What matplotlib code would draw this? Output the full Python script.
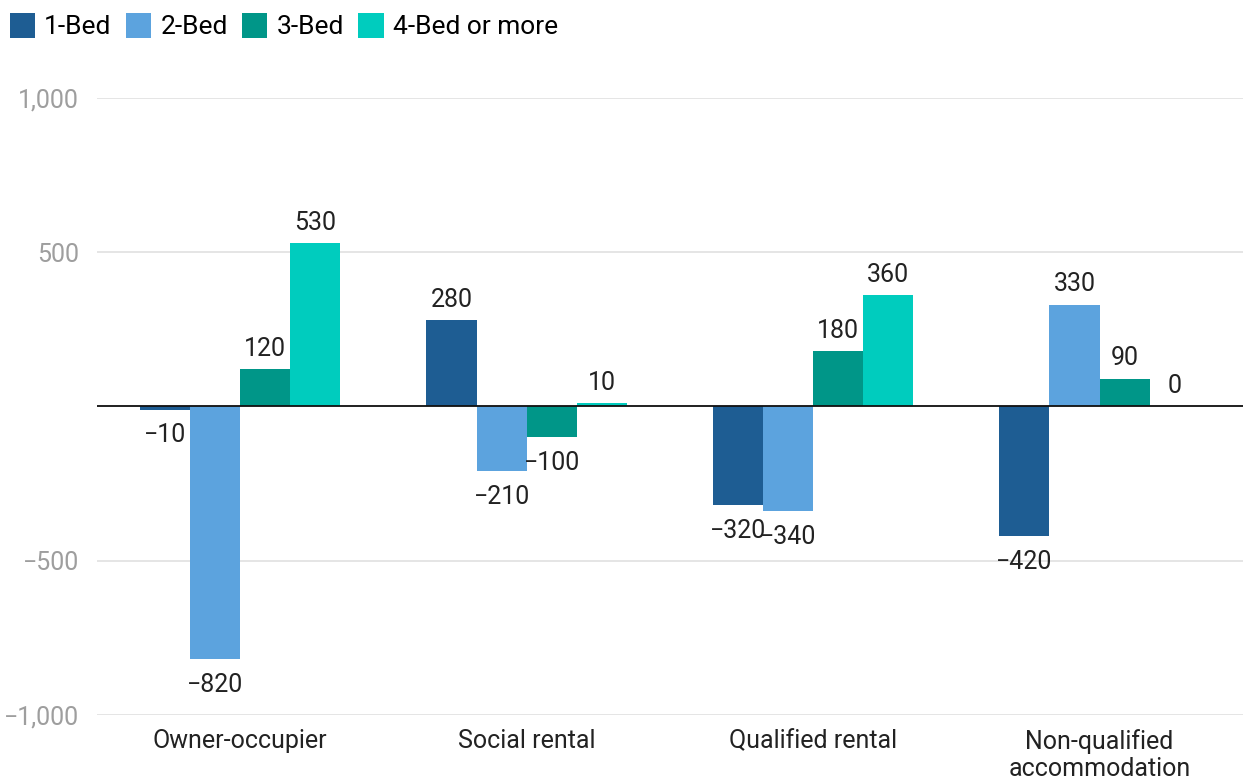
import numpy as np
from matplotlib import pyplot as plt

plt.rcParams['font.family'] = ['Roboto', 'DejaVu Sans']

categories = ['Owner-occupier', 'Social rental', 'Qualified rental', 'Non-qualified\naccommodation']
series_names = ['1-Bed', '2-Bed', '3-Bed', '4-Bed or more']
bed1 = [-10, 280, -320, -420]
bed2 = [-820, -210, -340, 330]
bed3 = [120, -100, 180, 90]
bed4 = [530, 10, 360, 0]
colors = ['#1e5d93', '#5ca3de', '#009688', '#00ccbe']

fig = plt.figure(figsize=(12.44, 7.8), dpi=100)
ax = fig.add_axes([0.078, 0.0833, 0.921, 0.7911])

x = np.arange(len(categories))
width = 0.175
for i, (vals, name, col) in enumerate(zip([bed1, bed2, bed3, bed4], series_names, colors)):
    pos = x + (i - 1.5) * width
    ax.bar(pos, vals, width, color=col, label=name, zorder=2)
    for p, v in zip(pos, vals):
        txt = f'{v}'.replace('-', '\u2212')
        if v >= 0:
            ax.annotate(txt, (p, v), xytext=(0, 6), textcoords='offset points',
                        ha='center', va='bottom', fontsize=18, color='#222222')
        else:
            ax.annotate(txt, (p, v), xytext=(0, -10), textcoords='offset points',
                        ha='center', va='top', fontsize=18, color='#222222')

ax.set_xlim(-0.5, 3.5)
ax.set_ylim(-1000, 1000)
ax.set_yticks([-1000, -500, 0, 500, 1000])
ax.set_yticklabels(['\u22121,000', '\u2212500', '', '500', '1,000'])
ax.set_xticks(x)
ax.set_xticklabels(categories, linespacing=1.15)
ax.tick_params(axis='y', length=0, pad=13, labelsize=18, labelcolor='#9e9e9e')
ax.tick_params(axis='x', length=0, pad=10, labelsize=18, labelcolor='#222222')
ax.grid(axis='y', color='#e0e0e0', linewidth=1.2, zorder=0)
ax.axhline(0, color='#111111', linewidth=1.3, zorder=3)
for s in ax.spines.values():
    s.set_visible(False)

fig.legend(loc='upper left', bbox_to_anchor=(-0.009, 1.011), ncol=4, frameon=False,
           fontsize=19, handlelength=0.95, handleheight=1.1, handletextpad=0.35,
           columnspacing=0.55, borderpad=0.3)

plt.savefig('out.png', dpi=100)
